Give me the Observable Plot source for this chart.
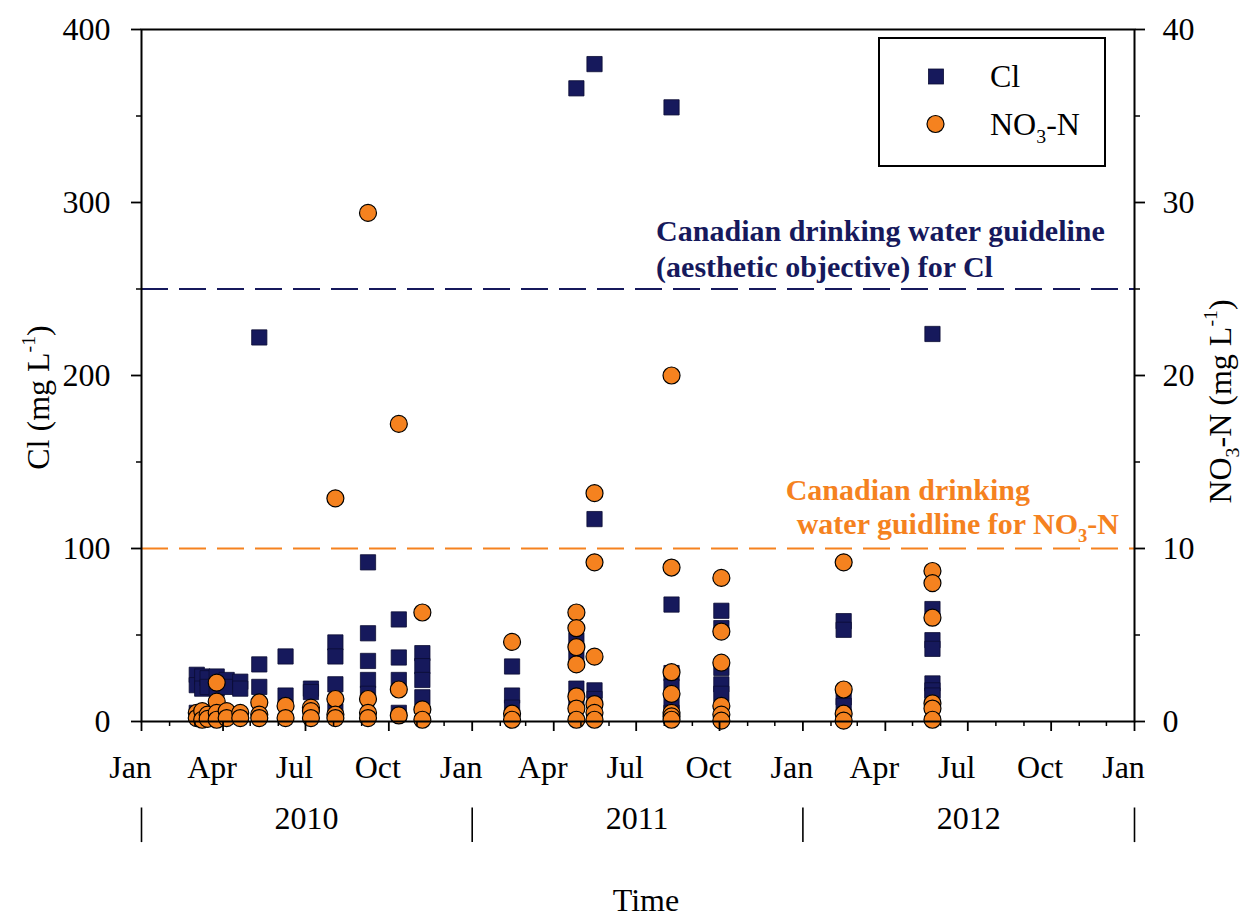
<!DOCTYPE html>
<html>
<head>
<meta charset="utf-8">
<script src="https://cdn.jsdelivr.net/npm/d3@7"></script>
<script src="https://cdn.jsdelivr.net/npm/@observablehq/plot@0.6"></script>
<style>
  html, body { margin: 0; padding: 0; background: #fff; }
</style>
</head>
<body>
<div id="chart"></div>
<script>
// ---------------- DATA ----------------
const sampleDates = [
  "2010-03-03","2010-03-09","2010-03-15","2010-03-25","2010-04-05","2010-04-20",
  "2010-05-11","2010-06-09","2010-07-07","2010-08-03","2010-09-08","2010-10-12","2010-11-07",
  "2011-02-14","2011-04-26","2011-05-16","2011-08-09","2011-10-03",
  "2012-02-15","2012-05-23"
];
// Cl (mg L-1) per sampling date
const clValues = [
  [27, 21, 5],
  [26, 19],
  [25, 20],
  [26, 19],
  [24, 20],
  [23, 19],
  [222, 33, 20],
  [37.6, 15],
  [19, 17],
  [45.7, 37.6, 21.5, 6],
  [92, 51, 35, 24, 16],
  [59, 37, 24, 5],
  [39.5, 32, 24, 14],
  [31.8, 15, 8],
  [366, 47, 40, 19, 12],
  [380, 117, 18, 13],
  [355, 67.6, 28, 20, 12, 5],
  [64, 54, 31, 21.5, 16],
  [58, 53, 14, 9],
  [224, 65, 47, 42, 22, 18, 15]
];
// NO3-N (mg L-1) per sampling date
const no3Values = [
  [0.5, 0.2],
  [0.6, 0.1],
  [0.4, 0.15],
  [2.25, 1.15, 0.5, 0.1],
  [0.6, 0.2],
  [0.5, 0.2],
  [1.1, 0.4, 0.2],
  [0.9, 0.2],
  [0.8, 0.6, 0.2],
  [12.9, 1.3, 0.4, 0.2],
  [29.4, 1.3, 0.5, 0.2],
  [17.2, 1.85, 0.35],
  [6.3, 0.7, 0.1],
  [4.6, 0.45, 0.1],
  [6.3, 5.4, 4.3, 3.3, 1.45, 0.75, 0.1],
  [13.2, 9.2, 3.75, 1.0, 0.5, 0.1],
  [20.0, 8.9, 2.85, 1.6, 0.5, 0.3, 0.1],
  [8.3, 5.2, 3.4, 0.9, 0.4, 0.05],
  [9.2, 1.85, 0.45, 0.05],
  [8.7, 8.0, 6.0, 1.05, 0.75, 0.1]
];
const clGuideline = 250;
const no3Guideline = 10;
const clGuideText = ["Canadian drinking water guideline", "(aesthetic objective) for Cl"];
const no3GuideText = ["Canadian drinking", "water guidline for NO₃-N"];

const xTickDates = ["2010-01-01","2010-04-01","2010-07-01","2010-10-01","2011-01-01","2011-04-01","2011-07-01","2011-10-01","2012-01-01","2012-04-01","2012-07-01","2012-10-01","2013-01-01"];
const xTickLabels = ["Jan","Apr","Jul","Oct","Jan","Apr","Jul","Oct","Jan","Apr","Jul","Oct","Jan"];
const yLeftTicks = [0, 100, 200, 300, 400];
const yLeftMinor = [50, 150, 250, 350];
const yRightTicks = [0, 10, 20, 30, 40];
const yRightMinor = [5, 15, 25, 35];
const years = ["2010", "2011", "2012"];
const yearBounds = ["2010-01-01", "2011-01-01", "2012-01-01", "2013-01-01"];
const legendItems = [
  {label: "Cl", symbol: "square"},
  {label: "NO₃-N", symbol: "circle"}
];

// ---------------- SETUP ----------------
const NO3_TO_CL = 10; // right axis 0-40 maps to left axis 0-400
const FONT = "'Liberation Serif', 'Times New Roman', Times, serif";
const NAVY = "#16195c";
const ORANGE = "#f5821f";
const toDate = s => new Date(s + "T00:00:00Z");

const clRows = sampleDates.flatMap((d, i) => clValues[i].map(v => ({date: toDate(d), value: v})));
const no3Rows = sampleDates.flatMap((d, i) => no3Values[i].map(v => ({date: toDate(d), value: v})));

const quarterDates = xTickDates.map(toDate);
const labelByTime = new Map(quarterDates.map((d, i) => [+d, xTickLabels[i]]));
const quarterSet = new Set(quarterDates.map(d => +d));
const minorMonths = d3.utcMonth.range(toDate("2010-01-01"), toDate("2013-01-02")).filter(d => !quarterSet.has(+d));

const annot = (text, dateStr, yVal, dy, dx, color) =>
  Plot.text([text], {
    x: () => toDate(dateStr), y: () => yVal, dy, dx,
    textAnchor: "start", fill: color, fontWeight: "bold", fontSize: 30
  });

const chart = Plot.plot({
  width: 1244,
  height: 924,
  marginLeft: 141,
  marginRight: 110,
  marginTop: 29,
  marginBottom: 203,
  style: {fontFamily: FONT, fontSize: "32px", background: "#fff", color: "#000", overflow: "visible"},
  x: {type: "utc", domain: [toDate("2010-01-01"), toDate("2013-01-01")], label: null},
  y: {domain: [0, 400], label: null},
  marks: [
    Plot.ruleY([clGuideline], {stroke: NAVY, strokeWidth: 2, strokeDasharray: "27,11"}),
    Plot.ruleY([no3Guideline * NO3_TO_CL], {stroke: ORANGE, strokeWidth: 2, strokeDasharray: "27,11"}),
    annot(clGuideText[0], "2011-07-23", clGuideline, -58, 0, NAVY),
    annot(clGuideText[1], "2011-07-23", clGuideline, -22, 0, NAVY),
    annot(no3GuideText[0], "2011-12-13", no3Guideline * NO3_TO_CL, -58, 0, ORANGE),
    annot(no3GuideText[1], "2011-12-13", no3Guideline * NO3_TO_CL, -24, 11, ORANGE),
    Plot.dot(clRows, {x: "date", y: "value", symbol: "square", r: 8.6, fill: NAVY, stroke: "#0b0d33", strokeWidth: 0.8}),
    Plot.dot(no3Rows, {x: "date", y: d => d.value * NO3_TO_CL, r: 8.5, fill: ORANGE, stroke: "#000", strokeWidth: 1.2}),
    Plot.frame({stroke: "#000", strokeWidth: 2}),
    // x axis
    Plot.axisX({ticks: quarterDates, tickSize: 10, strokeWidth: 1.8, fill: "none", label: null}),
    Plot.axisX({ticks: minorMonths, tickSize: 5, strokeWidth: 1.5, fill: "none", label: null}),
    Plot.axisX({ticks: quarterDates, tickSize: 0, tickPadding: 34, dx: -11, tickFormat: d => labelByTime.get(+d), label: null}),
    // left axis
    Plot.axisY({ticks: yLeftTicks, tickSize: 10, strokeWidth: 1.8, fill: "none", label: null}),
    Plot.axisY({ticks: yLeftMinor, tickSize: 5, strokeWidth: 1.5, fill: "none", label: null}),
    Plot.axisY({ticks: yLeftTicks, tickSize: 0, tickPadding: 31, label: null}),
    // right axis
    Plot.axisY({anchor: "right", ticks: yRightTicks.map(v => v * NO3_TO_CL), tickSize: 10, strokeWidth: 1.8, fill: "none", label: null}),
    Plot.axisY({anchor: "right", ticks: yRightMinor.map(v => v * NO3_TO_CL), tickSize: 5, strokeWidth: 1.5, fill: "none", label: null}),
    Plot.axisY({anchor: "right", ticks: yRightTicks.map(v => v * NO3_TO_CL), tickSize: 0, tickPadding: 28, tickFormat: d => String(d / NO3_TO_CL), label: null}),
    // axis titles
    Plot.text(["Cl (mg L⁻¹)"], {frameAnchor: "left", textAnchor: "middle", rotate: -90, dx: -103, dy: 22}),
    Plot.text(["NO₃-N (mg L⁻¹)"], {frameAnchor: "right", textAnchor: "middle", rotate: -90, dx: 86, dy: 26}),
    // year band
    Plot.ruleX(yearBounds, {x: d => toDate(d), y1: () => -50, y2: () => -70, stroke: "#000", strokeWidth: 1.6}),
    Plot.text(years, {x: d => toDate(d + "-07-02"), frameAnchor: "bottom", dy: 107}),
    Plot.text(["Time"], {frameAnchor: "bottom", dy: 189, dx: 8})
  ]
});

document.getElementById("chart").appendChild(chart);

// ---------------- LEGEND ----------------
const svg = d3.select(chart);
const lg = svg.append("g").attr("font-family", FONT).attr("font-size", 32).attr("text-anchor", "start");
lg.append("rect").attr("x", 879).attr("y", 38).attr("width", 226).attr("height", 128)
  .attr("fill", "#fff").attr("stroke", "#000").attr("stroke-width", 2);
legendItems.forEach((item, i) => {
  const cy = 76.5 + i * 47.5;
  if (item.symbol === "square") {
    lg.append("rect").attr("x", 928.5).attr("y", cy - 7.5).attr("width", 15).attr("height", 15)
      .attr("fill", NAVY).attr("stroke", "#0b0d33").attr("stroke-width", 0.8);
  } else {
    lg.append("circle").attr("cx", 935.5).attr("cy", cy).attr("r", 8.5)
      .attr("fill", ORANGE).attr("stroke", "#000").attr("stroke-width", 1.2);
  }
  lg.append("text").attr("x", 990).attr("y", cy).attr("dy", "0.34em").attr("text-anchor", "start").text(item.label);
});

// ---------------- SUB / SUPERSCRIPTS ----------------
const SPECIAL = /[₃⁻¹]/;
const plainMap = {"₃": "3", "⁻": "-", "¹": "1"};
function enrich(el) {
  const s = el.textContent;
  if (!SPECIAL.test(s)) return;
  const fs = parseFloat(getComputedStyle(el).fontSize) || 32;
  const segs = s.match(/[₃]+|[⁻¹]+|[^₃⁻¹]+/g);
  while (el.firstChild) el.removeChild(el.firstChild);
  let shift = 0;
  for (const seg of segs) {
    const t = document.createElementNS("http://www.w3.org/2000/svg", "tspan");
    let target = 0;
    if (/[₃]/.test(seg)) {
      target = fs * 0.26;
      t.setAttribute("font-size", fs * 0.62);
      t.textContent = [...seg].map(c => plainMap[c]).join("");
    } else if (/[⁻¹]/.test(seg)) {
      target = -fs * 0.42;
      t.setAttribute("font-size", fs * 0.62);
      t.textContent = [...seg].map(c => plainMap[c]).join("");
    } else {
      target = 0;
      t.textContent = seg;
    }
    const dy = target - shift;
    if (dy !== 0) t.setAttribute("dy", dy);
    shift = target;
    el.appendChild(t);
  }
}
chart.querySelectorAll("text").forEach(t => {
  const tspans = t.querySelectorAll("tspan");
  if (tspans.length) tspans.forEach(enrich); else enrich(t);
});
</script>
</body>
</html>
